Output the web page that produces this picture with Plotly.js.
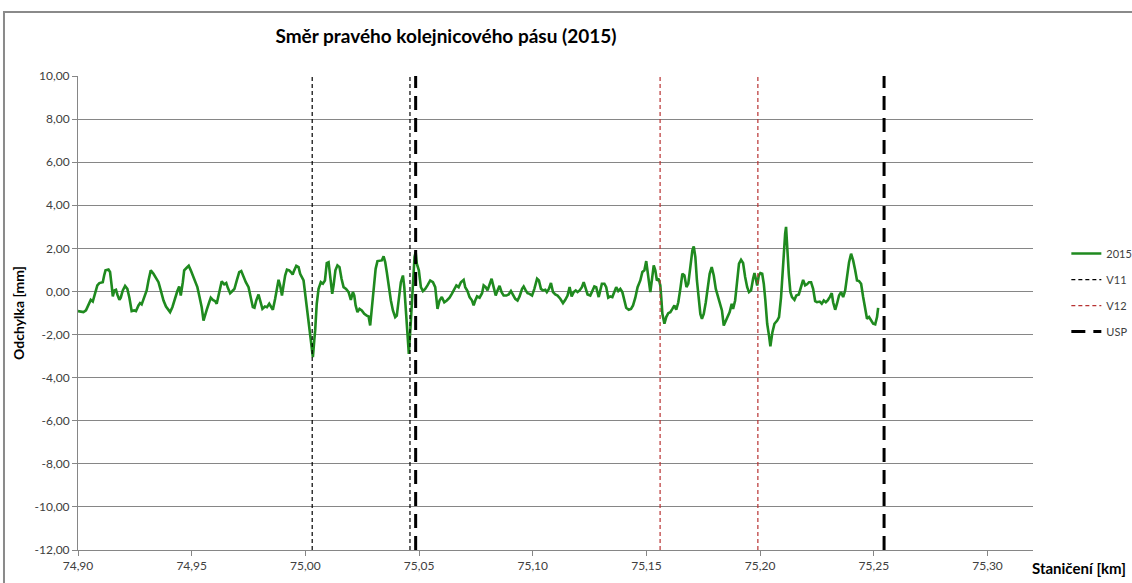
<!DOCTYPE html>
<html>
<head>
<meta charset="utf-8">
<script src="https://cdn.plot.ly/plotly-3.0.1.min.js"></script>
<style>html,body{margin:0;padding:0;background:#fff;}#chart{width:1132px;height:583px;}</style>
</head>
<body>
<div id="chart"></div>
<script>
// Staničení [km]
const km2015 = [
74.9000,74.9024,74.9035,74.9046,74.9056,74.9065,74.9075,74.9085,74.9094,74.9103,74.9109,74.9115,74.9121,74.9134,74.9141,74.9148,74.9153,74.9160,74.9167,74.9173,74.9182,74.9188,74.9197,74.9207,74.9217,74.9226,74.9236,74.9247,74.9255,74.9266,74.9273,74.9280,74.9291,74.9302,74.9310,74.9320,74.9332,74.9343,74.9354,74.9364,74.9376,74.9387,74.9398,74.9405,74.9415,74.9427,74.9437,74.9445,74.9452,74.9461,74.9467,74.9478,74.9487,74.9496,74.9505,74.9515,74.9525,74.9534,74.9544,74.9552,74.9559,74.9566,74.9577,74.9584,74.9593,74.9603,74.9610,74.9618,74.9625,74.9632,74.9643,74.9652,74.9659,74.9669,74.9679,74.9688,74.9699,74.9709,74.9718,74.9728,74.9738,74.9750,74.9760,74.9769,74.9776,74.9784,74.9794,74.9801,74.9811,74.9822,74.9831,74.9841,74.9850,74.9857,74.9867,74.9875,74.9882,74.9889,74.9897,74.9904,74.9911,74.9919,74.9929,74.9936,74.9944,74.9951,74.9960,74.9970,74.9977,
74.9992,75.0006,75.0017,75.0025,75.0033,75.0039,75.0043,75.0050,75.0058,75.0068,75.0077,75.0086,75.0094,75.0102,75.0109,75.0118,75.0124,75.0132,75.0141,75.0150,75.0159,75.0168,75.0179,75.0190,75.0200,75.0209,75.0215,75.0221,75.0229,75.0238,75.0248,75.0259,75.0270,75.0278,75.0285,75.0292,75.0300,75.0309,75.0317,75.0329,75.0336,75.0344,75.0351,75.0358,75.0367,75.0376,75.0385,75.0395,75.0402,75.0411,75.0420,75.0429,75.0435,75.0443,75.0449,75.0455,75.0464,75.0473,75.0480,75.0485,75.0490,75.0499,75.0508,75.0517,75.0527,75.0537,75.0549,75.0561,75.0571,75.0581,75.0590,75.0600,75.0611,75.0622,75.0634,75.0644,75.0655,75.0664,75.0674,75.0684,75.0696,75.0703,75.0713,75.0722,75.0733,75.0740,75.0747,75.0755,75.0766,75.0777,75.0784,75.0793,75.0801,75.0810,75.0819,75.0828,75.0837,75.0845,75.0854,75.0863,75.0872,75.0884,75.0894,75.0904,75.0913,75.0923,75.0933,75.0942,75.0953,75.0960,75.0969,75.0977,75.0986,75.0997,75.1007,75.1019,75.1027,75.1036,
75.1045,75.1055,75.1062,75.1071,75.1080,75.1089,75.1099,75.1109,75.1121,75.1133,75.1143,75.1153,75.1162,75.1171,75.1180,75.1189,75.1197,75.1206,75.1216,75.1224,75.1231,75.1241,75.1253,75.1262,75.1271,75.1279,75.1290,75.1297,75.1304,75.1315,75.1323,75.1332,75.1341,75.1350,75.1359,75.1367,75.1376,75.1385,75.1394,75.1403,75.1411,75.1422,75.1432,75.1441,75.1451,75.1461,75.1473,75.1482,75.1491,75.1499,75.1505,75.1511,75.1517,75.1524,75.1532,75.1539,75.1546,75.1554,75.1561,75.1565,75.1570,75.1579,75.1587,75.1596,75.1605,75.1614,75.1623,75.1631,75.1640,75.1649,75.1658,75.1667,75.1676,75.1684,75.1693,75.1702,75.1708,75.1715,75.1722,75.1730,75.1737,75.1744,75.1752,75.1761,75.1769,75.1778,75.1787,75.1796,75.1805,75.1813,75.1822,75.1832,75.1840,75.1849,75.1857,75.1866,75.1875,75.1881,75.1890,75.1899,75.1907,75.1916,75.1925,75.1934,75.1943,75.1951,75.1960,75.1969,75.1975,75.1981,75.1987,75.1994,75.2001,75.2009,75.2016,75.2023,75.2031,75.2039,75.2045,75.2054,75.2063,75.2075,75.2083,75.2092,75.2101,75.2110,75.2114,
75.2118,75.2126,75.2133,75.2140,75.2151,75.2159,75.2170,75.2180,75.2189,75.2198,75.2206,75.2215,75.2224,75.2233,75.2242,75.2250,75.2262,75.2271,75.2280,75.2289,75.2297,75.2306,75.2315,75.2321,75.2330,75.2338,75.2347,75.2356,75.2365,75.2374,75.2382,75.2391,75.2400,75.2409,75.2418,75.2426,75.2435,75.2444,75.2453,75.2462,75.2470,75.2479,75.2488,75.2497,75.2506,75.2514,75.2519
];
// Odchylka [mm] – 2015
const val2015 = [
-0.91,-0.96,-0.88,-0.65,-0.39,-0.47,-0.11,0.28,0.39,0.43,0.43,0.74,0.98,1.02,0.90,0.28,-0.23,0.05,0.08,-0.14,-0.39,-0.29,0.05,0.26,0.12,-0.29,-0.91,-0.88,-0.91,-0.65,-0.54,-0.60,-0.23,0.05,0.51,0.98,0.82,0.59,0.43,0.05,-0.42,-0.70,-0.85,-0.96,-0.73,-0.26,0.02,0.23,-0.19,0.43,0.98,1.10,1.19,0.98,0.74,0.51,0.20,-0.23,-0.73,-1.35,-1.04,-0.85,-0.50,-0.29,-0.39,-0.45,-0.57,-0.14,0.23,0.47,0.33,0.39,0.17,-0.08,0.02,0.12,0.54,0.90,0.95,0.67,0.43,0.20,-0.29,-0.73,-0.76,-0.42,-0.14,-0.42,-0.81,-0.70,-0.73,-0.57,-0.76,-0.85,-0.34,0.20,0.54,0.28,-0.19,0.28,0.74,1.01,0.98,0.90,0.79,0.98,1.19,1.13,0.82,
0.51,-0.73,-1.66,-2.60,-3.05,-2.28,-1.81,-0.57,0.12,0.43,0.36,0.51,1.32,1.36,0.82,-0.11,0.28,0.98,1.21,1.13,0.59,0.20,0.12,-0.03,-0.39,-0.03,-0.19,-0.65,-0.96,-0.81,-0.88,-1.04,-1.12,-1.16,-1.58,-0.88,0.05,1.05,1.41,1.41,1.44,1.63,1.36,0.90,0.20,-0.42,-0.88,-1.19,-1.12,-0.26,0.43,0.74,0.20,-1.04,-1.97,-2.90,-1.35,0.20,1.60,1.83,1.29,0.98,0.20,0.02,0.12,0.28,0.51,0.43,0.20,-0.81,-0.42,-0.26,-0.50,-0.42,-0.29,-0.11,0.12,0.28,0.20,0.43,0.54,0.20,0.02,-0.26,-0.42,-0.65,-0.42,-0.23,-0.29,-0.08,0.28,0.20,0.05,0.36,0.59,0.20,-0.19,0.05,0.26,-0.03,-0.19,-0.19,-0.14,0.02,-0.19,-0.34,-0.42,-0.23,0.12,0.23,0.05,-0.08,-0.11,-0.19,0.12,0.59,0.51,0.12,
0.05,0.08,-0.03,0.12,0.39,-0.03,-0.14,-0.19,-0.34,-0.54,-0.39,-0.19,0.20,-0.23,-0.03,0.05,-0.03,0.05,0.20,0.43,0.20,-0.14,-0.19,0.05,0.23,0.20,-0.26,0.05,0.36,0.36,0.20,-0.29,-0.23,-0.26,0.02,0.20,0.02,0.12,-0.03,-0.42,-0.76,-0.85,-0.81,-0.65,-0.29,0.20,0.51,0.90,0.98,1.41,0.98,0.36,-0.03,0.54,1.21,0.98,0.51,0.59,0.28,-0.26,-1.04,-1.50,-1.19,-1.01,-0.96,-0.81,-0.65,-0.85,-0.50,0.12,0.82,0.74,0.20,0.36,1.13,1.91,2.09,1.60,0.51,-0.42,-1.04,-1.27,-1.04,-0.50,0.20,0.82,1.13,0.74,0.12,-0.19,-0.42,-0.88,-1.58,-1.35,-1.19,-0.96,-0.57,-0.81,-0.42,0.51,1.29,1.47,1.32,0.67,0.20,-0.03,0.05,0.59,0.85,0.59,0.28,0.74,0.85,0.82,0.36,-0.42,-1.50,-2.05,-2.55,-1.89,-1.50,-1.35,-1.19,-0.26,1.44,2.68,3.00,
2.06,0.82,-0.03,-0.26,-0.39,-0.19,-0.14,0.20,0.54,0.28,0.33,0.43,0.43,0.12,-0.45,-0.50,-0.47,-0.57,-0.42,-0.50,-0.42,-0.26,-0.08,-0.50,-0.85,-0.57,-0.19,-0.03,-0.26,0.05,0.74,1.36,1.75,1.44,0.98,0.51,0.48,0.36,-0.26,-0.88,-1.27,-1.19,-1.32,-1.50,-1.53,-1.19,-0.76
];
// vertical marker positions [km]
const v11Km = [75.003, 75.046];
const v12Km = [75.156, 75.199];
const uspKm = [75.0485, 75.2545];
const yTicks = [-12,-10,-8,-6,-4,-2,0,2,4,6,8,10];
const yTickText = ['-12,00','-10,00','-8,00','-6,00','-4,00','-2,00','0,00','2,00','4,00','6,00','8,00','10,00'];
const xTicks = [74.90,74.95,75.00,75.05,75.10,75.15,75.20,75.25,75.30];
const xTickText = ['74,90','74,95','75,00','75,05','75,10','75,15','75,20','75,25','75,30'];
const yRange = [-12, 10];

function vlines(arr){
  const xs=[], ys=[];
  arr.forEach(k=>{xs.push(k,k,null); ys.push(yRange[0],yRange[1],null);});
  return {x:xs,y:ys};
}
const v11=vlines(v11Km), v12=vlines(v12Km), usp=vlines(uspKm);

const FONT = 'Lato, "Open Sans", sans-serif';
const traces = [
  {x:km2015, y:val2015, type:'scatter', mode:'lines', name:'2015', legendgroup:'a',
   line:{color:'#1f8a1f', width:2.6}},
  {x:v11.x, y:v11.y, type:'scatter', mode:'lines', name:'V11', legendgroup:'b',
   line:{color:'#000000', width:1.2, dash:'4px,3px'}},
  {x:v12.x, y:v12.y, type:'scatter', mode:'lines', name:'V12', legendgroup:'c',
   line:{color:'#b83232', width:1.2, dash:'4px,3px'}},
  {x:usp.x, y:usp.y, type:'scatter', mode:'lines', name:'USP', legendgroup:'d',
   line:{color:'#000000', width:3, dash:'14px,8px'}}
];

const layout = {
  width:1132, height:583,
  paper_bgcolor:'#ffffff', plot_bgcolor:'#ffffff',
  font:{family:FONT, size:12, color:'#404040'},
  margin:{l:78, r:99, t:76, b:33},
  title:{text:'Směr pravého kolejnicového pásu (2015)', font:{family:FONT, size:19, color:'#000000', weight:'bold'},
         x:0.394, xref:'container', xanchor:'center', y:0.937, yref:'container', yanchor:'middle'},
  xaxis:{range:[74.9, 75.32], tickvals:xTicks, ticktext:xTickText, showgrid:false, zeroline:false,
         showline:true, linecolor:'#868686', linewidth:1, ticks:'outside', ticklen:5, tickcolor:'#868686',
         tickfont:{family:FONT, size:12, color:'#404040'}},
  yaxis:{range:yRange, tickvals:yTicks, ticktext:yTickText, showgrid:true, gridcolor:'#868686', gridwidth:1,
         zeroline:false, showline:true, linecolor:'#868686', linewidth:1, ticks:'outside', ticklen:5, tickcolor:'#868686',
         tickfont:{family:FONT, size:12, color:'#404040'},
         title:{text:'Odchylka [mm]', font:{family:FONT, size:14, color:'#000000', weight:'bold'}, standoff:6}},
  showlegend:true,
  legend:{xref:'container', yref:'container', x:0.942, xanchor:'left', y:0.59, yanchor:'top',
          traceorder:'grouped', tracegroupgap:7,
          font:{family:FONT, size:11, color:'#404040'}, bgcolor:'rgba(0,0,0,0)'},
  annotations:[{text:'<b>Staničení [km]</b>', xref:'paper', yref:'paper', x:0.997, y:-0.038,
                xanchor:'left', yanchor:'middle', showarrow:false, font:{family:FONT, size:15, color:'#000000'}}],
  shapes:[{type:'path', xref:'paper', yref:'paper',
           path:'M -0.0775 -0.08 L -0.0775 1.135 L 1.11 1.135',
           line:{color:'#8a8a8a', width:2}, layer:'below'}]
};
Plotly.newPlot('chart', traces, layout, {displayModeBar:false, staticPlot:true});
</script>
</body>
</html>
